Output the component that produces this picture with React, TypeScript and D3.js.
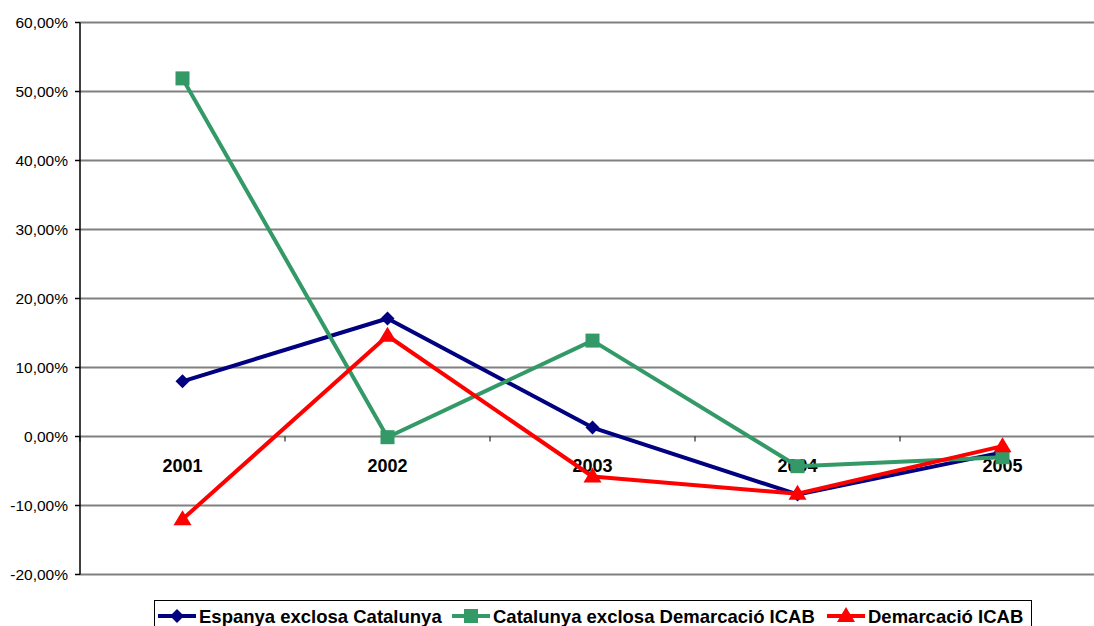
import React from "react";
import * as d3 from "d3";

const categories = ["2001", "2002", "2003", "2004", "2005"];
const espanya = [8.0, 17.1, 1.3, -8.4, -2.3];
const catalunya = [51.9, -0.1, 13.9, -4.3, -3.0];
const icab = [-12.0, 14.6, -5.8, -8.3, -1.4];
const yTicks = [60, 50, 40, 30, 20, 10, 0, -10, -20];
const seriesNames = ["Espanya exclosa Catalunya", "Catalunya exclosa Demarcació ICAB", "Demarcació ICAB"];

const W = 1094, H = 626;
const left = 80, right = 1105, top = 22.5, bottom = 574.5;

export default function App() {
  const x = d3.scaleBand<string>().domain(categories).range([left, right]).padding(0);
  const y = d3.scaleLinear().domain([-20, 60]).range([bottom, top]);
  const cx = (c: string) => (x(c) as number) + x.bandwidth() / 2;
  const line = d3.line<number>().x((_, i) => cx(categories[i])).y((d) => y(d));
  const fmt = (v: number) => v.toFixed(2).replace(".", ",") + "%";
  const series = [
    { name: seriesNames[0], data: espanya, color: "#000080", marker: "diamond" },
    { name: seriesNames[1], data: catalunya, color: "#339966", marker: "square" },
    { name: seriesNames[2], data: icab, color: "#FF0000", marker: "triangle" },
  ];
  const marker = (m: string, px: number, py: number, color: string, key?: any) => {
    if (m === "diamond")
      return <path key={key} d={`M${px},${py - 7}L${px + 7},${py}L${px},${py + 7}L${px - 7},${py}Z`} fill={color} />;
    if (m === "square") return <rect key={key} x={px - 7} y={py - 7} width={14} height={14} fill={color} />;
    return <path key={key} d={`M${px},${py - 9}L${px + 9},${py + 6}L${px - 9},${py + 6}Z`} fill={color} />;
  };
  const legendItems = [
    { lx: 158, tx: 199 },
    { lx: 452, tx: 493 },
    { lx: 827, tx: 868 },
  ];
  return (
    <svg width={W} height={H} style={{ position: "absolute", left: 0, top: 0, background: "#fff" }}
      fontFamily="Liberation Sans, Arial, sans-serif">
      {yTicks.map((t) => (
        <g key={t}>
          <line x1={left} x2={W} y1={y(t)} y2={y(t)} stroke="#808080" strokeWidth={2} />
          <line x1={75} x2={left} y1={y(t)} y2={y(t)} stroke="#000" strokeWidth={1.5} />
          <text x={68} y={y(t) + 5.5} textAnchor="end" fontSize={15.5} fill="#000">{fmt(t)}</text>
        </g>
      ))}
      <line x1={left} x2={left} y1={top} y2={bottom} stroke="#000" strokeWidth={1.5} />
      {categories.map((c) => (
        <line key={"t" + c} x1={x(c) as number} x2={x(c) as number} y1={y(0)} y2={y(0) + 5} stroke="#000" strokeWidth={1} />
      ))}
      {categories.map((c) => (
        <text key={c} x={cx(c)} y={y(0) + 35} textAnchor="middle" fontSize={18} fontWeight="bold" fill="#000">{c}</text>
      ))}
      {series.map((s) => (
        <g key={s.name}>
          <path d={line(s.data) as string} fill="none" stroke={s.color} strokeWidth={4} strokeLinejoin="round" />
          {s.data.map((v, i) => marker(s.marker, cx(categories[i]), y(v), s.color, i))}
        </g>
      ))}
      <rect x={154.5} y={600.5} width={877} height={40} fill="#fff" stroke="#000" strokeWidth={1} />
      {series.map((s, i) => (
        <g key={"l" + s.name}>
          <line x1={legendItems[i].lx} x2={legendItems[i].lx + 38} y1={616} y2={616} stroke={s.color} strokeWidth={4} />
          {marker(s.marker, legendItems[i].lx + 19, 616, s.color)}
          <text x={legendItems[i].tx} y={623} fontSize={18.5} fontWeight="bold" fill="#000">{s.name}</text>
        </g>
      ))}
    </svg>
  );
}
